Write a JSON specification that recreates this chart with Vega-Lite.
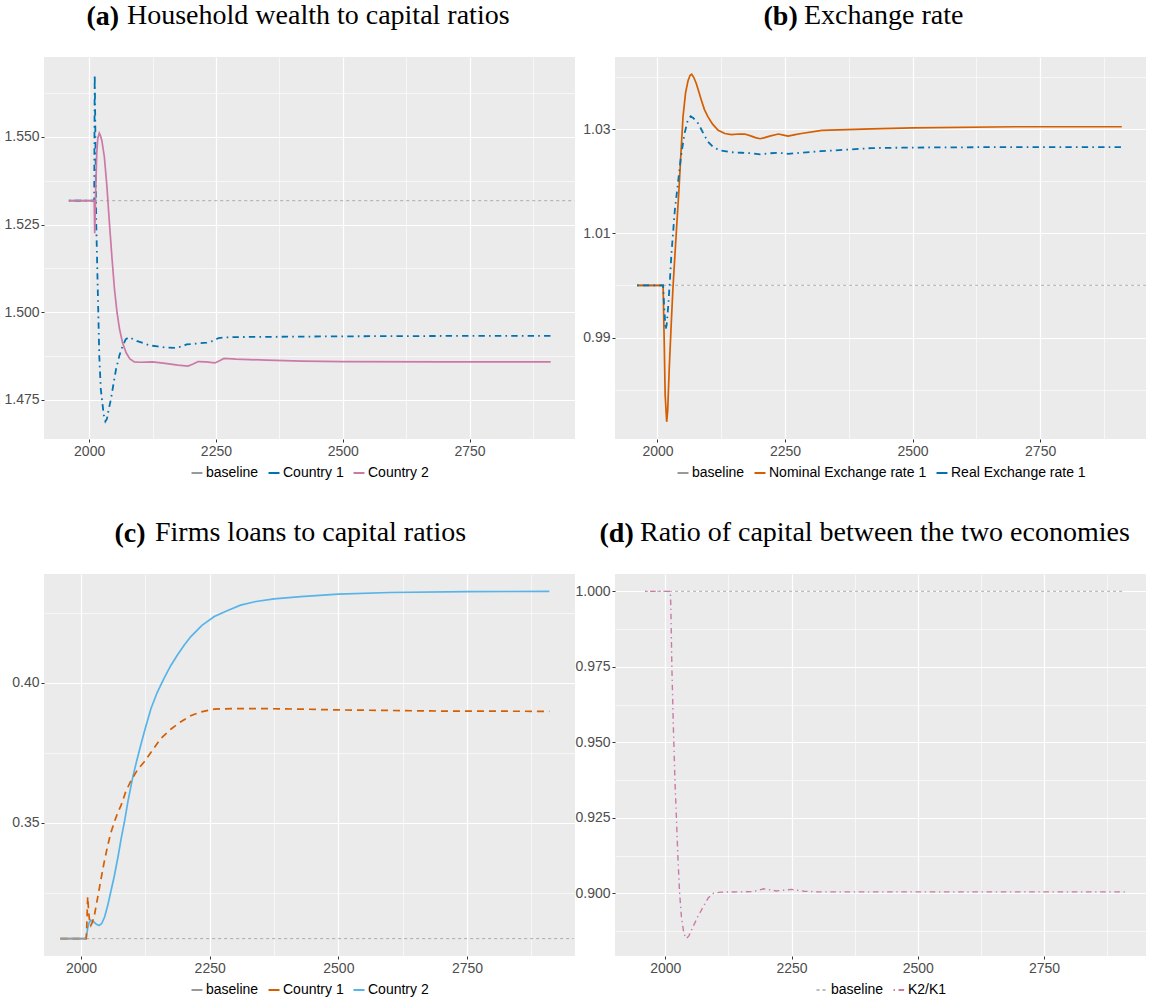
{
  "$schema": "https://vega.github.io/schema/vega-lite/v6.json",
  "background": "#FFFFFF",
  "padding": {"left": 3, "top": 2, "right": 5, "bottom": 5},
  "datasets": {
    "a": [
      {"t": 1960, "v": 1.5318, "s": "baseline"}, {"t": 2010, "v": 1.5318, "s": "baseline"},
      {"t": 1960, "v": 1.5318, "s": "Country 1"}, {"t": 2010, "v": 1.5318, "s": "Country 1"}, {"t": 2011, "v": 1.5678, "s": "Country 1"}, {"t": 2012, "v": 1.555, "s": "Country 1"}, {"t": 2014, "v": 1.5254, "s": "Country 1"}, {"t": 2017, "v": 1.5065, "s": "Country 1"}, {"t": 2020, "v": 1.4875, "s": "Country 1"}, {"t": 2023, "v": 1.478, "s": "Country 1"}, {"t": 2026, "v": 1.4742, "s": "Country 1"}, {"t": 2029, "v": 1.4705, "s": "Country 1"}, {"t": 2032, "v": 1.4688, "s": "Country 1"}, {"t": 2035, "v": 1.4695, "s": "Country 1"}, {"t": 2039, "v": 1.4725, "s": "Country 1"}, {"t": 2043, "v": 1.4752, "s": "Country 1"}, {"t": 2048, "v": 1.4795, "s": "Country 1"}, {"t": 2053, "v": 1.4837, "s": "Country 1"}, {"t": 2060, "v": 1.4878, "s": "Country 1"}, {"t": 2066, "v": 1.4903, "s": "Country 1"}, {"t": 2072, "v": 1.4922, "s": "Country 1"}, {"t": 2078, "v": 1.4928, "s": "Country 1"}, {"t": 2085, "v": 1.4924, "s": "Country 1"}, {"t": 2095, "v": 1.4917, "s": "Country 1"}, {"t": 2106, "v": 1.4912, "s": "Country 1"}, {"t": 2120, "v": 1.4905, "s": "Country 1"}, {"t": 2135, "v": 1.4902, "s": "Country 1"}, {"t": 2150, "v": 1.4899, "s": "Country 1"}, {"t": 2170, "v": 1.4898, "s": "Country 1"}, {"t": 2185, "v": 1.4903, "s": "Country 1"}, {"t": 2192, "v": 1.4908, "s": "Country 1"}, {"t": 2210, "v": 1.491, "s": "Country 1"}, {"t": 2232, "v": 1.4913, "s": "Country 1"}, {"t": 2245, "v": 1.4918, "s": "Country 1"}, {"t": 2255, "v": 1.4926, "s": "Country 1"}, {"t": 2270, "v": 1.4928, "s": "Country 1"}, {"t": 2300, "v": 1.4929, "s": "Country 1"}, {"t": 2400, "v": 1.493, "s": "Country 1"}, {"t": 2500, "v": 1.4931, "s": "Country 1"}, {"t": 2700, "v": 1.4932, "s": "Country 1"}, {"t": 2910, "v": 1.4932, "s": "Country 1"},
      {"t": 1960, "v": 1.5318, "s": "Country 2"}, {"t": 2010, "v": 1.5318, "s": "Country 2"}, {"t": 2011, "v": 1.5225, "s": "Country 2"}, {"t": 2013, "v": 1.535, "s": "Country 2"}, {"t": 2015, "v": 1.5453, "s": "Country 2"}, {"t": 2017, "v": 1.5495, "s": "Country 2"}, {"t": 2020, "v": 1.5511, "s": "Country 2"}, {"t": 2022, "v": 1.5505, "s": "Country 2"}, {"t": 2025, "v": 1.549, "s": "Country 2"}, {"t": 2030, "v": 1.5443, "s": "Country 2"}, {"t": 2035, "v": 1.536, "s": "Country 2"}, {"t": 2040, "v": 1.5254, "s": "Country 2"}, {"t": 2045, "v": 1.5155, "s": "Country 2"}, {"t": 2050, "v": 1.5065, "s": "Country 2"}, {"t": 2055, "v": 1.4999, "s": "Country 2"}, {"t": 2060, "v": 1.4951, "s": "Country 2"}, {"t": 2066, "v": 1.4912, "s": "Country 2"}, {"t": 2073, "v": 1.4884, "s": "Country 2"}, {"t": 2080, "v": 1.4867, "s": "Country 2"}, {"t": 2089, "v": 1.4858, "s": "Country 2"}, {"t": 2100, "v": 1.4857, "s": "Country 2"}, {"t": 2125, "v": 1.4858, "s": "Country 2"}, {"t": 2150, "v": 1.4854, "s": "Country 2"}, {"t": 2175, "v": 1.4849, "s": "Country 2"}, {"t": 2195, "v": 1.4846, "s": "Country 2"}, {"t": 2205, "v": 1.4852, "s": "Country 2"}, {"t": 2215, "v": 1.4859, "s": "Country 2"}, {"t": 2230, "v": 1.4858, "s": "Country 2"}, {"t": 2248, "v": 1.4855, "s": "Country 2"}, {"t": 2258, "v": 1.4862, "s": "Country 2"}, {"t": 2266, "v": 1.4868, "s": "Country 2"}, {"t": 2290, "v": 1.4866, "s": "Country 2"}, {"t": 2350, "v": 1.4863, "s": "Country 2"}, {"t": 2420, "v": 1.486, "s": "Country 2"}, {"t": 2500, "v": 1.4859, "s": "Country 2"}, {"t": 2700, "v": 1.4858, "s": "Country 2"}, {"t": 2910, "v": 1.4858, "s": "Country 2"}
    ],
    "a_ref": [{"t": 2010, "t2": 2957, "v": 1.5318}],
    "b": [
      {"t": 1960, "v": 1.0, "s": "baseline"}, {"t": 2011, "v": 1.0, "s": "baseline"},
      {"t": 1960, "v": 1.0, "s": "Nominal Exchange rate 1"}, {"t": 2011, "v": 1.0, "s": "Nominal Exchange rate 1"}, {"t": 2013, "v": 0.99, "s": "Nominal Exchange rate 1"}, {"t": 2015, "v": 0.979, "s": "Nominal Exchange rate 1"}, {"t": 2018, "v": 0.9738, "s": "Nominal Exchange rate 1"}, {"t": 2020, "v": 0.976, "s": "Nominal Exchange rate 1"}, {"t": 2023, "v": 0.984, "s": "Nominal Exchange rate 1"}, {"t": 2027, "v": 0.9928, "s": "Nominal Exchange rate 1"}, {"t": 2030, "v": 0.999, "s": "Nominal Exchange rate 1"}, {"t": 2034, "v": 1.0056, "s": "Nominal Exchange rate 1"}, {"t": 2038, "v": 1.012, "s": "Nominal Exchange rate 1"}, {"t": 2042, "v": 1.0183, "s": "Nominal Exchange rate 1"}, {"t": 2046, "v": 1.0255, "s": "Nominal Exchange rate 1"}, {"t": 2050, "v": 1.0324, "s": "Nominal Exchange rate 1"}, {"t": 2055, "v": 1.037, "s": "Nominal Exchange rate 1"}, {"t": 2060, "v": 1.0394, "s": "Nominal Exchange rate 1"}, {"t": 2064, "v": 1.0404, "s": "Nominal Exchange rate 1"}, {"t": 2067, "v": 1.0406, "s": "Nominal Exchange rate 1"}, {"t": 2071, "v": 1.04, "s": "Nominal Exchange rate 1"}, {"t": 2076, "v": 1.0388, "s": "Nominal Exchange rate 1"}, {"t": 2081, "v": 1.0372, "s": "Nominal Exchange rate 1"}, {"t": 2086, "v": 1.0356, "s": "Nominal Exchange rate 1"}, {"t": 2092, "v": 1.0338, "s": "Nominal Exchange rate 1"}, {"t": 2099, "v": 1.0324, "s": "Nominal Exchange rate 1"}, {"t": 2108, "v": 1.031, "s": "Nominal Exchange rate 1"}, {"t": 2119, "v": 1.0298, "s": "Nominal Exchange rate 1"}, {"t": 2132, "v": 1.0292, "s": "Nominal Exchange rate 1"}, {"t": 2145, "v": 1.029, "s": "Nominal Exchange rate 1"}, {"t": 2160, "v": 1.0291, "s": "Nominal Exchange rate 1"}, {"t": 2171, "v": 1.0291, "s": "Nominal Exchange rate 1"}, {"t": 2184, "v": 1.0287, "s": "Nominal Exchange rate 1"}, {"t": 2192, "v": 1.0284, "s": "Nominal Exchange rate 1"}, {"t": 2201, "v": 1.0282, "s": "Nominal Exchange rate 1"}, {"t": 2210, "v": 1.0284, "s": "Nominal Exchange rate 1"}, {"t": 2220, "v": 1.0287, "s": "Nominal Exchange rate 1"}, {"t": 2237, "v": 1.0291, "s": "Nominal Exchange rate 1"}, {"t": 2247, "v": 1.0289, "s": "Nominal Exchange rate 1"}, {"t": 2256, "v": 1.0287, "s": "Nominal Exchange rate 1"}, {"t": 2270, "v": 1.029, "s": "Nominal Exchange rate 1"}, {"t": 2282, "v": 1.0292, "s": "Nominal Exchange rate 1"}, {"t": 2322, "v": 1.0298, "s": "Nominal Exchange rate 1"}, {"t": 2420, "v": 1.0301, "s": "Nominal Exchange rate 1"}, {"t": 2500, "v": 1.0303, "s": "Nominal Exchange rate 1"}, {"t": 2700, "v": 1.0305, "s": "Nominal Exchange rate 1"}, {"t": 2910, "v": 1.0305, "s": "Nominal Exchange rate 1"},
      {"t": 1960, "v": 1.0, "s": "Real Exchange rate 1"}, {"t": 2011, "v": 1.0, "s": "Real Exchange rate 1"}, {"t": 2013, "v": 0.996, "s": "Real Exchange rate 1"}, {"t": 2016, "v": 0.9915, "s": "Real Exchange rate 1"}, {"t": 2018, "v": 0.9925, "s": "Real Exchange rate 1"}, {"t": 2021, "v": 0.996, "s": "Real Exchange rate 1"}, {"t": 2024, "v": 1.0005, "s": "Real Exchange rate 1"}, {"t": 2027, "v": 1.0056, "s": "Real Exchange rate 1"}, {"t": 2030, "v": 1.0095, "s": "Real Exchange rate 1"}, {"t": 2034, "v": 1.0145, "s": "Real Exchange rate 1"}, {"t": 2040, "v": 1.0196, "s": "Real Exchange rate 1"}, {"t": 2046, "v": 1.0248, "s": "Real Exchange rate 1"}, {"t": 2053, "v": 1.0292, "s": "Real Exchange rate 1"}, {"t": 2059, "v": 1.0316, "s": "Real Exchange rate 1"}, {"t": 2065, "v": 1.0325, "s": "Real Exchange rate 1"}, {"t": 2070, "v": 1.0322, "s": "Real Exchange rate 1"}, {"t": 2080, "v": 1.0311, "s": "Real Exchange rate 1"}, {"t": 2090, "v": 1.0292, "s": "Real Exchange rate 1"}, {"t": 2099, "v": 1.0276, "s": "Real Exchange rate 1"}, {"t": 2110, "v": 1.0265, "s": "Real Exchange rate 1"}, {"t": 2125, "v": 1.0259, "s": "Real Exchange rate 1"}, {"t": 2145, "v": 1.0256, "s": "Real Exchange rate 1"}, {"t": 2165, "v": 1.0255, "s": "Real Exchange rate 1"}, {"t": 2185, "v": 1.0254, "s": "Real Exchange rate 1"}, {"t": 2201, "v": 1.0252, "s": "Real Exchange rate 1"}, {"t": 2220, "v": 1.0254, "s": "Real Exchange rate 1"}, {"t": 2237, "v": 1.0255, "s": "Real Exchange rate 1"}, {"t": 2256, "v": 1.0253, "s": "Real Exchange rate 1"}, {"t": 2282, "v": 1.0255, "s": "Real Exchange rate 1"}, {"t": 2320, "v": 1.0258, "s": "Real Exchange rate 1"}, {"t": 2420, "v": 1.0264, "s": "Real Exchange rate 1"}, {"t": 2500, "v": 1.0265, "s": "Real Exchange rate 1"}, {"t": 2700, "v": 1.0266, "s": "Real Exchange rate 1"}, {"t": 2910, "v": 1.0266, "s": "Real Exchange rate 1"}
    ],
    "b_ref": [{"t": 2011, "t2": 2957, "v": 1.0}],
    "c": [
      {"t": 1960, "v": 0.3087, "s": "baseline"}, {"t": 2010, "v": 0.3087, "s": "baseline"},
      {"t": 1960, "v": 0.3087, "s": "Country 1"}, {"t": 2010, "v": 0.3087, "s": "Country 1"}, {"t": 2011, "v": 0.312, "s": "Country 1"}, {"t": 2013, "v": 0.3236, "s": "Country 1"}, {"t": 2015, "v": 0.318, "s": "Country 1"}, {"t": 2017, "v": 0.3145, "s": "Country 1"}, {"t": 2019, "v": 0.3134, "s": "Country 1"}, {"t": 2022, "v": 0.3145, "s": "Country 1"}, {"t": 2026, "v": 0.317, "s": "Country 1"}, {"t": 2032, "v": 0.323, "s": "Country 1"}, {"t": 2039, "v": 0.3301, "s": "Country 1"}, {"t": 2045, "v": 0.336, "s": "Country 1"}, {"t": 2052, "v": 0.342, "s": "Country 1"}, {"t": 2058, "v": 0.3465, "s": "Country 1"}, {"t": 2065, "v": 0.3504, "s": "Country 1"}, {"t": 2071, "v": 0.3535, "s": "Country 1"}, {"t": 2078, "v": 0.3563, "s": "Country 1"}, {"t": 2087, "v": 0.3612, "s": "Country 1"}, {"t": 2097, "v": 0.365, "s": "Country 1"}, {"t": 2110, "v": 0.369, "s": "Country 1"}, {"t": 2123, "v": 0.3718, "s": "Country 1"}, {"t": 2140, "v": 0.3762, "s": "Country 1"}, {"t": 2155, "v": 0.3801, "s": "Country 1"}, {"t": 2175, "v": 0.3835, "s": "Country 1"}, {"t": 2194, "v": 0.3861, "s": "Country 1"}, {"t": 2213, "v": 0.3882, "s": "Country 1"}, {"t": 2233, "v": 0.3896, "s": "Country 1"}, {"t": 2259, "v": 0.3906, "s": "Country 1"}, {"t": 2300, "v": 0.3908, "s": "Country 1"}, {"t": 2336, "v": 0.3908, "s": "Country 1"}, {"t": 2427, "v": 0.3906, "s": "Country 1"}, {"t": 2500, "v": 0.3903, "s": "Country 1"}, {"t": 2700, "v": 0.3899, "s": "Country 1"}, {"t": 2910, "v": 0.3898, "s": "Country 1"},
      {"t": 1960, "v": 0.3087, "s": "Country 2"}, {"t": 2010, "v": 0.3087, "s": "Country 2"}, {"t": 2013, "v": 0.3125, "s": "Country 2"}, {"t": 2016, "v": 0.3145, "s": "Country 2"}, {"t": 2019, "v": 0.3152, "s": "Country 2"}, {"t": 2024, "v": 0.3148, "s": "Country 2"}, {"t": 2030, "v": 0.3138, "s": "Country 2"}, {"t": 2035, "v": 0.3134, "s": "Country 2"}, {"t": 2040, "v": 0.314, "s": "Country 2"}, {"t": 2046, "v": 0.3165, "s": "Country 2"}, {"t": 2052, "v": 0.3206, "s": "Country 2"}, {"t": 2058, "v": 0.3255, "s": "Country 2"}, {"t": 2065, "v": 0.3313, "s": "Country 2"}, {"t": 2072, "v": 0.338, "s": "Country 2"}, {"t": 2078, "v": 0.3444, "s": "Country 2"}, {"t": 2085, "v": 0.351, "s": "Country 2"}, {"t": 2091, "v": 0.3575, "s": "Country 2"}, {"t": 2100, "v": 0.3658, "s": "Country 2"}, {"t": 2108, "v": 0.372, "s": "Country 2"}, {"t": 2116, "v": 0.3777, "s": "Country 2"}, {"t": 2126, "v": 0.3845, "s": "Country 2"}, {"t": 2136, "v": 0.3908, "s": "Country 2"}, {"t": 2148, "v": 0.3965, "s": "Country 2"}, {"t": 2161, "v": 0.4015, "s": "Country 2"}, {"t": 2174, "v": 0.406, "s": "Country 2"}, {"t": 2187, "v": 0.4098, "s": "Country 2"}, {"t": 2200, "v": 0.4133, "s": "Country 2"}, {"t": 2213, "v": 0.4164, "s": "Country 2"}, {"t": 2235, "v": 0.4205, "s": "Country 2"}, {"t": 2259, "v": 0.4236, "s": "Country 2"}, {"t": 2285, "v": 0.4258, "s": "Country 2"}, {"t": 2310, "v": 0.4277, "s": "Country 2"}, {"t": 2340, "v": 0.429, "s": "Country 2"}, {"t": 2375, "v": 0.4299, "s": "Country 2"}, {"t": 2427, "v": 0.4307, "s": "Country 2"}, {"t": 2500, "v": 0.4316, "s": "Country 2"}, {"t": 2600, "v": 0.4322, "s": "Country 2"}, {"t": 2750, "v": 0.4325, "s": "Country 2"}, {"t": 2910, "v": 0.4326, "s": "Country 2"}
    ],
    "c_ref": [{"t": 2010, "t2": 2957, "v": 0.3087}],
    "d": [
      {"t": 1960, "v": 1.0, "s": "baseline"}, {"t": 2910, "v": 1.0, "s": "baseline"},
      {"t": 1960, "v": 1.0, "s": "K2/K1"}, {"t": 2010, "v": 1.0, "s": "K2/K1"}, {"t": 2011, "v": 0.995, "s": "K2/K1"}, {"t": 2013, "v": 0.975, "s": "K2/K1"}, {"t": 2016, "v": 0.955, "s": "K2/K1"}, {"t": 2019, "v": 0.938, "s": "K2/K1"}, {"t": 2022, "v": 0.925, "s": "K2/K1"}, {"t": 2025, "v": 0.912, "s": "K2/K1"}, {"t": 2028, "v": 0.901, "s": "K2/K1"}, {"t": 2032, "v": 0.892, "s": "K2/K1"}, {"t": 2037, "v": 0.8865, "s": "K2/K1"}, {"t": 2042, "v": 0.885, "s": "K2/K1"}, {"t": 2047, "v": 0.886, "s": "K2/K1"}, {"t": 2055, "v": 0.889, "s": "K2/K1"}, {"t": 2065, "v": 0.8925, "s": "K2/K1"}, {"t": 2075, "v": 0.8955, "s": "K2/K1"}, {"t": 2085, "v": 0.8985, "s": "K2/K1"}, {"t": 2095, "v": 0.9, "s": "K2/K1"}, {"t": 2110, "v": 0.9004, "s": "K2/K1"}, {"t": 2150, "v": 0.9005, "s": "K2/K1"}, {"t": 2175, "v": 0.9006, "s": "K2/K1"}, {"t": 2195, "v": 0.9015, "s": "K2/K1"}, {"t": 2220, "v": 0.9008, "s": "K2/K1"}, {"t": 2250, "v": 0.9013, "s": "K2/K1"}, {"t": 2275, "v": 0.9007, "s": "K2/K1"}, {"t": 2300, "v": 0.9005, "s": "K2/K1"}, {"t": 2500, "v": 0.9005, "s": "K2/K1"}, {"t": 2910, "v": 0.9005, "s": "K2/K1"}
    ]
  },
  "concat": [
    {
      "width": 531, "height": 382,
      "title": {"text": "Household wealth to capital ratios", "dx": 83},
      "encoding": {
        "x": {"field": "t", "type": "quantitative", "scale": {"domain": [1911, 2958], "nice": false, "zero": false},
              "axis": {"title": null, "values": [2000, 2125, 2250, 2375, 2500, 2625, 2750, 2875], "format": "d", "labelOverlap": false, "labelFlush": false,
                       "labelExpr": "datum.value % 250 === 0 ? datum.label : ''",
                       "gridWidth": {"condition": {"test": "datum.value % 250 === 0", "value": 1.2}, "value": 0.6},
                       "tickOpacity": {"condition": {"test": "datum.value % 250 === 0", "value": 1}, "value": 0}}},
        "y": {"field": "v", "type": "quantitative", "scale": {"domain": [1.4638, 1.5728], "nice": false, "zero": false},
              "axis": {"title": "(a)", "titleX": 42, "values": [1.4875, 1.5125, 1.5375, 1.5625, 1.475, 1.5, 1.525, 1.55], "format": ".3f", "labelOverlap": false,
                       "labelExpr": "abs(datum.value * 40 - round(datum.value * 40)) < 0.01 ? datum.label : ''",
                       "gridWidth": {"condition": {"test": "abs(datum.value * 40 - round(datum.value * 40)) < 0.01", "value": 1.2}, "value": 0.6},
                       "tickOpacity": {"condition": {"test": "abs(datum.value * 40 - round(datum.value * 40)) < 0.01", "value": 1}, "value": 0}}},
        "color": {"field": "s", "type": "nominal", "sort": null, "scale": {"domain": ["baseline", "Country 1", "Country 2"], "range": ["#999999", "#0072B2", "#CC79A7"]}, "legend": {"title": null}}
      },
      "layer": [
        {"data": {"name": "a_ref"}, "mark": {"type": "rule", "strokeWidth": 0.8, "strokeDash": [3, 3]}, "encoding": {"x2": {"field": "t2"}, "color": {"value": "#999999"}}},
        {"data": {"name": "a"}, "transform": [{"filter": "datum.s === 'baseline'"}], "mark": {"type": "line", "strokeWidth": 1.7}},
        {"data": {"name": "a"}, "transform": [{"filter": "datum.s === 'Country 1'"}], "mark": {"type": "line", "strokeWidth": 1.8, "strokeDash": [1.6, 4.2, 6.4, 4.2]}},
        {"data": {"name": "a"}, "transform": [{"filter": "datum.s === 'Country 2'"}], "mark": {"type": "line", "strokeWidth": 1.7}}
      ]
    },
    {
      "width": 531, "height": 382,
      "title": {"text": "Exchange rate", "dx": 189},
      "encoding": {
        "x": {"field": "t", "type": "quantitative", "scale": {"domain": [1916.7, 2957.5], "nice": false, "zero": false},
              "axis": {"title": null, "values": [2000, 2125, 2250, 2375, 2500, 2625, 2750, 2875], "format": "d", "labelOverlap": false, "labelFlush": false,
                       "labelExpr": "datum.value % 250 === 0 ? datum.label : ''",
                       "gridWidth": {"condition": {"test": "datum.value % 250 === 0", "value": 1.2}, "value": 0.6},
                       "tickOpacity": {"condition": {"test": "datum.value % 250 === 0", "value": 1}, "value": 0}}},
        "y": {"field": "v", "type": "quantitative", "scale": {"domain": [0.9705, 1.0439], "nice": false, "zero": false},
              "axis": {"title": "(b)", "titleX": 148, "values": [0.98, 1.0, 1.02, 1.04, 0.99, 1.01, 1.03], "format": ".2f", "labelOverlap": false,
                       "labelExpr": "round(datum.value * 100) % 2 === 1 ? datum.label : ''",
                       "gridWidth": {"condition": {"test": "round(datum.value * 100) % 2 === 1", "value": 1.2}, "value": 0.6},
                       "tickOpacity": {"condition": {"test": "round(datum.value * 100) % 2 === 1", "value": 1}, "value": 0}}},
        "color": {"field": "s", "type": "nominal", "sort": null, "scale": {"domain": ["baseline", "Nominal Exchange rate 1", "Real Exchange rate 1"], "range": ["#999999", "#D55E00", "#0072B2"]}, "legend": {"title": null}}
      },
      "layer": [
        {"data": {"name": "b_ref"}, "mark": {"type": "rule", "strokeWidth": 1.3, "strokeDash": [3, 3]}, "encoding": {"x2": {"field": "t2"}, "color": {"value": "#BBBBBB"}}},
        {"data": {"name": "b"}, "transform": [{"filter": "datum.s === 'baseline'"}], "mark": {"type": "line", "strokeWidth": 1.7}},
        {"data": {"name": "b"}, "transform": [{"filter": "datum.s === 'Nominal Exchange rate 1'"}], "mark": {"type": "line", "strokeWidth": 1.7}},
        {"data": {"name": "b"}, "transform": [{"filter": "datum.s === 'Real Exchange rate 1'"}], "mark": {"type": "line", "strokeWidth": 1.8, "strokeDash": [1.6, 4.2, 6.4, 4.2]}}
      ]
    },
    {
      "width": 531, "height": 382,
      "title": {"text": "Firms loans to capital ratios", "dx": 111},
      "encoding": {
        "x": {"field": "t", "type": "quantitative", "scale": {"domain": [1928.1, 2959.8], "nice": false, "zero": false},
              "axis": {"title": null, "values": [2000, 2125, 2250, 2375, 2500, 2625, 2750, 2875], "format": "d", "labelOverlap": false, "labelFlush": false,
                       "labelExpr": "datum.value % 250 === 0 ? datum.label : ''",
                       "gridWidth": {"condition": {"test": "datum.value % 250 === 0", "value": 1.2}, "value": 0.6},
                       "tickOpacity": {"condition": {"test": "datum.value % 250 === 0", "value": 1}, "value": 0}}},
        "y": {"field": "v", "type": "quantitative", "scale": {"domain": [0.3025, 0.4388], "nice": false, "zero": false},
              "axis": {"title": "(c)", "titleX": 70, "values": [0.325, 0.375, 0.425, 0.35, 0.4], "format": ".2f", "labelOverlap": false,
                       "labelExpr": "abs(datum.value * 20 - round(datum.value * 20)) < 0.01 ? datum.label : ''",
                       "gridWidth": {"condition": {"test": "abs(datum.value * 20 - round(datum.value * 20)) < 0.01", "value": 1.2}, "value": 0.6},
                       "tickOpacity": {"condition": {"test": "abs(datum.value * 20 - round(datum.value * 20)) < 0.01", "value": 1}, "value": 0}}},
        "color": {"field": "s", "type": "nominal", "sort": null, "scale": {"domain": ["baseline", "Country 1", "Country 2"], "range": ["#999999", "#D55E00", "#56B4E9"]}, "legend": {"title": null}}
      },
      "layer": [
        {"data": {"name": "c_ref"}, "mark": {"type": "rule", "strokeWidth": 0.8, "strokeDash": [3, 3]}, "encoding": {"x2": {"field": "t2"}, "color": {"value": "#999999"}}},
        {"data": {"name": "c"}, "transform": [{"filter": "datum.s === 'Country 2'"}], "mark": {"type": "line", "strokeWidth": 1.7}},
        {"data": {"name": "c"}, "transform": [{"filter": "datum.s === 'Country 1'"}], "mark": {"type": "line", "strokeWidth": 1.7, "strokeDash": [7, 5]}},
        {"data": {"name": "c"}, "transform": [{"filter": "datum.s === 'baseline'"}], "mark": {"type": "line", "strokeWidth": 1.7}}
      ]
    },
    {
      "width": 531, "height": 382,
      "title": {"text": "Ratio of capital between the two economies", "dx": 25},
      "encoding": {
        "x": {"field": "t", "type": "quantitative", "scale": {"domain": [1900.4, 2951.9], "nice": false, "zero": false},
              "axis": {"title": null, "values": [2000, 2125, 2250, 2375, 2500, 2625, 2750, 2875], "format": "d", "labelOverlap": false, "labelFlush": false,
                       "labelExpr": "datum.value % 250 === 0 ? datum.label : ''",
                       "gridWidth": {"condition": {"test": "datum.value % 250 === 0", "value": 1.2}, "value": 0.6},
                       "tickOpacity": {"condition": {"test": "datum.value % 250 === 0", "value": 1}, "value": 0}}},
        "y": {"field": "v", "type": "quantitative", "scale": {"domain": [0.87925, 1.00575], "nice": false, "zero": false},
              "axis": {"title": "(d)", "titleX": -16, "values": [0.8875, 0.9125, 0.9375, 0.9625, 0.9875, 0.9, 0.925, 0.95, 0.975, 1.0], "format": ".3f", "labelOverlap": false,
                       "labelExpr": "abs(datum.value * 40 - round(datum.value * 40)) < 0.01 ? datum.label : ''",
                       "gridWidth": {"condition": {"test": "abs(datum.value * 40 - round(datum.value * 40)) < 0.01", "value": 1.2}, "value": 0.6},
                       "tickOpacity": {"condition": {"test": "abs(datum.value * 40 - round(datum.value * 40)) < 0.01", "value": 1}, "value": 0}}}
      },
      "layer": [
        {"data": {"name": "d"}, "mark": {"type": "line", "strokeWidth": 1.4},
         "encoding": {
           "color": {"field": "s", "type": "nominal", "sort": null, "scale": {"domain": ["baseline", "K2/K1"], "range": ["#BBBBBB", "#CC79A7"]}, "legend": {"title": null}},
           "strokeDash": {"field": "s", "type": "nominal", "sort": null, "scale": {"domain": ["baseline", "K2/K1"], "range": [[3, 3], [1.4, 3.6, 5.6, 3.6]]}, "legend": {"title": null}}
         }}
      ]
    }
  ],
  "columns": 2,
  "align": "none",
  "bounds": "flush",
  "spacing": {"row": 135, "column": 40},
  "resolve": {"scale": {"color": "independent", "strokeDash": "independent"}, "legend": {"color": "independent", "strokeDash": "independent"}},
  "config": {
    "view": {"fill": "#EBEBEB", "stroke": null},
    "font": "Liberation Sans",
    "title": {
      "anchor": "start", "frame": "group", "offset": -28, "baseline": "alphabetic",
      "font": "Liberation Serif", "fontSize": 28, "fontWeight": "normal", "color": "#000000"
    },
    "axis": {
      "domain": false, "grid": true, "gridColor": "#FFFFFF", "ticks": true, "tickColor": "#333333", "tickSize": 3, "tickWidth": 1,
      "labelFont": "Liberation Sans", "labelFontSize": 14, "labelColor": "#4D4D4D", "labelPadding": 2
    },
    "axisY": {
      "titleAngle": 0, "titleY": -33, "titleAlign": "left", "titleBaseline": "alphabetic",
      "titleFont": "Liberation Serif", "titleFontSize": 28, "titleFontWeight": "bold", "titleColor": "#000000"
    },
    "legend": {
      "orient": "bottom", "direction": "horizontal",
      "labelFont": "Liberation Sans", "labelFontSize": 14, "labelColor": "#000000", "labelOffset": 2,
      "symbolType": "stroke", "symbolSize": 120, "symbolStrokeWidth": 2, "columnPadding": 5, "padding": 0, "offset": 8,
      "layout": {"bottom": {"anchor": "middle"}}
    }
  }
}
